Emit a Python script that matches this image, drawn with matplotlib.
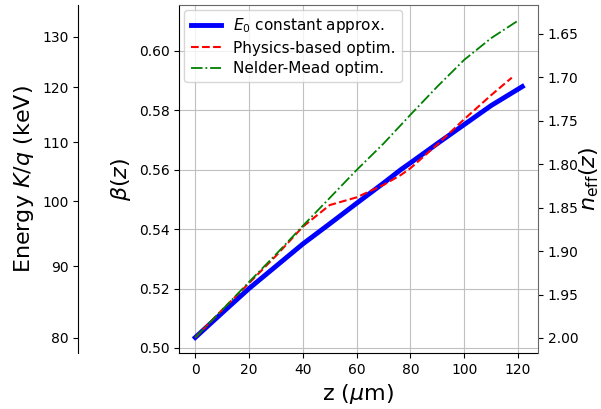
import numpy as np
import matplotlib.pyplot as plt

# beta(z) curves
z_blue = [0, 10, 20, 30, 40, 50, 60, 70, 76.4, 80, 90, 100, 110, 121.6]
beta_blue = [0.5035, 0.5118, 0.5200, 0.5275, 0.5350, 0.5418, 0.5487, 0.5555, 0.5600, 0.5623, 0.5688, 0.5752, 0.5816, 0.5880]

z_red = [0, 10, 20, 30, 40, 50, 60, 70, 76.4, 80, 90, 100, 110, 117.7]
beta_red = [0.5035, 0.5128, 0.5218, 0.5310, 0.5408, 0.5481, 0.5507, 0.5549, 0.5582, 0.5605, 0.5685, 0.5770, 0.5851, 0.5910]

z_green = [0, 10, 20, 30, 40, 50, 60, 70, 80, 90, 100, 110, 120]
beta_green = [0.5035, 0.5128, 0.5222, 0.5315, 0.5411, 0.5505, 0.5599, 0.5688, 0.5785, 0.5880, 0.5970, 0.6043, 0.6102]

energy_ticks = [80, 90, 100, 110, 120, 130]  # keV
neff_ticks = [1.65, 1.70, 1.75, 1.80, 1.85, 1.90, 1.95, 2.00]
mc2 = 511.0  # electron rest energy, keV


def beta_of_energy(K):
    gamma = 1 + np.asarray(K) / mc2
    return np.sqrt(1 - 1 / gamma**2)


fig = plt.figure(figsize=(6.01, 4.09), dpi=100)
ax = fig.add_axes([0.298, 0.137, 0.597, 0.851])

ax.plot(z_blue, beta_blue, color='blue', lw=3.5, label=r'$E_0$ constant approx.')
ax.plot(z_red, beta_red, color='red', lw=1.5, ls='--', label='Physics-based optim.')
ax.plot(z_green, beta_green, color='green', lw=1.3, ls='-.', label='Nelder-Mead optim.')

ax.set_xlim(-6, 127.4)
ax.set_ylim(0.4983, 0.6155)
ax.set_xticks([0, 20, 40, 60, 80, 100, 120])
ax.set_yticks([0.50, 0.52, 0.54, 0.56, 0.58, 0.60])
ax.set_xlabel(r'z ($\mu$m)', fontsize=16)
ax.set_ylabel(r'$\beta(z)$', fontsize=16)
ax.grid(True, color='#c0c0c0')
ax.legend(loc='upper left', fontsize=11, labelspacing=0.35, borderaxespad=0.35)
ax.spines['top'].set_visible(False)
ax.spines['right'].set_visible(False)

# right axis: effective index (inverted)
ax2 = ax.twinx()
ax2.set_ylim(2.0173, 1.6166)
ax2.set_yticks(neff_ticks)
ax2.set_ylabel(r'$n_{\mathrm{eff}}(z)$', fontsize=16, labelpad=-1)
ax2.spines['left'].set_visible(False)
ax2.spines['bottom'].set_visible(False)
ax2.spines['top'].set_color('#666666')
ax2.spines['right'].set_color('#666666')

# far-left axis: kinetic energy
ax3 = ax.twinx()
ax3.set_ylim(ax.get_ylim())
ax3.spines['left'].set_position(('axes', -0.281))
ax3.spines['left'].set_visible(True)
for s in ['right', 'top', 'bottom']:
    ax3.spines[s].set_visible(False)
ax3.yaxis.set_ticks_position('left')
ax3.yaxis.set_label_position('left')
ax3.set_yticks(beta_of_energy(energy_ticks) + 0.0011)
ax3.set_yticklabels([str(e) for e in energy_ticks])
ax3.set_ylabel(r'Energy $K/q$ (keV)', fontsize=16)

fig.savefig('out.png', dpi=100)
